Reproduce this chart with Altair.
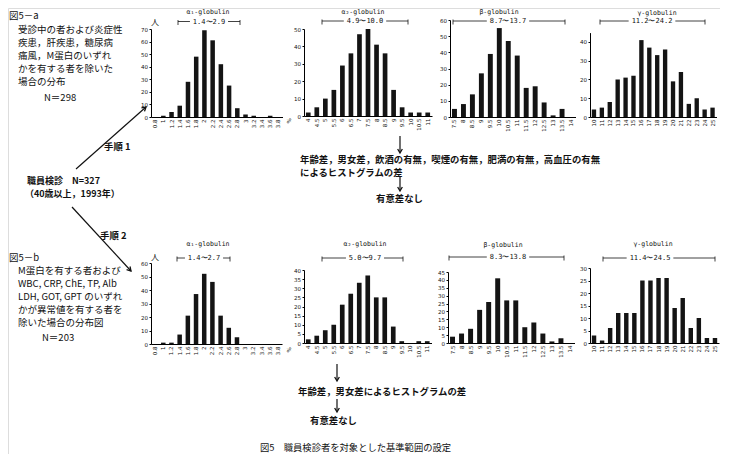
import altair as alt
import pandas as pd

W, H = 712, 446
OX, OY = 8, 8  # page margin

# ---------------- data ----------------
a1_bins = ["0.8", "1", "1.2", "1.4", "1.6", "1.8", "2", "2.2", "2.4", "2.6", "2.8", "3", "3.2", "3.4", "3.6", "3.8"]
a2_bins = ["4", "4.5", "5", "5.5", "6", "6.5", "7", "7.5", "8", "8.5", "9", "9.5", "10", "10.5", "11"]
b_bins = ["7.5", "8", "8.5", "9", "9.5", "10", "10.5", "11", "11.5", "12", "12.5", "13", "13.5", "14"]
g_bins = ["10", "11", "12", "13", "14", "15", "16", "17", "18", "19", "20", "21", "22", "23", "24", "25"]

# Fig 5-a (N=298)
a1_top = [0, 1, 4, 9, 28, 48, 69, 61, 42, 25, 7, 2, 1, 0, 1, 0]
a2_top = [2, 5, 10, 15, 29, 36, 47, 50, 41, 36, 15, 5, 2, 2, 2]
b_top = [5, 8, 14, 27, 39, 55, 47, 38, 18, 19, 9, 1, 5, 0]
g_top = [4, 5, 8, 20, 21, 22, 41, 37, 33, 36, 19, 24, 7, 10, 4, 5]

# Fig 5-b (N=203)
a1_bot = [0, 1, 1, 7, 21, 37, 52, 46, 21, 12, 5, 0, 0, 0, 0, 0]
a2_bot = [2, 4, 7, 10, 21, 27, 33, 37, 25, 25, 9, 1, 0, 1, 1]
b_bot = [4, 6, 9, 21, 26, 41, 27, 27, 10, 13, 6, 1, 3, 0]
g_bot = [3, 1, 6, 12, 12, 12, 25, 25, 26, 26, 14, 18, 6, 10, 2, 2]

titles = ["α₁-globulin", "α₂-globulin", "β-globulin", "γ-globulin"]
ref_top = ["1.4〜2.9", "4.9〜10.0", "8.7〜13.7", "11.2〜24.2"]
ref_bot = ["1.4〜2.7", "5.0〜9.7", "8.3〜13.8", "11.4〜24.5"]

y_max_top = [70, 50, 60, 45]
y_ticks_top = [[0, 10, 20, 30, 40, 50, 60, 70], [0, 10, 20, 30, 40, 50],
               [0, 10, 20, 30, 40, 50, 60], [0, 10, 20, 30, 40]]
y_max_bot = [60, 40, 45, 30]
y_ticks_bot = [[0, 10, 20, 30, 40, 50, 60], [0, 5, 10, 15, 20, 25, 30, 35, 40],
               [0, 5, 10, 15, 20, 25, 30, 35, 40, 45], [0, 5, 10, 15, 20, 25, 30]]

# ---------------- layout (page pixel coordinates) ----------------
# band range x0..x1, baseline y, y of the axis maximum
geo_top = [(151, 282.5, 117, 29), (304, 432, 116, 29), (450, 575.5, 117, 20), (590, 716.5, 117, 32.6)]
geo_bot = [(151, 282, 344, 263), (304, 431.5, 343, 270), (448, 574.5, 343, 272), (590, 719, 343, 268)]
title_pos_top = [(208, 12), (363, 12), (499, 12), (657, 12.5)]
title_pos_bot = [(208, 244), (365, 244), (503, 245), (653, 244)]
# bracket: x start, x end, y, text centre
br_top = [(178, 240, 21.5, 209), (322, 408, 21, 365), (453, 565, 21, 508), (600, 705, 21, 652)]
br_bot = [(177, 230, 258, 204), (322, 403, 258, 365), (449, 564, 257, 508), (603, 715, 258, 650)]

MONO = "DejaVu Sans Mono"
JP = "Noto Sans CJK JP"


def px(v):
    return v - OX


def py(v):
    return v - OY


def bar_layer(bins, counts, geo, ymax, ticks):
    x0, x1, base, top = geo
    df = pd.DataFrame({"bin": bins, "count": counts})
    return alt.Chart(df).mark_bar(color="#141414").encode(
        x=alt.X("bin:N", sort=None, title=None,
                scale=alt.Scale(range=[px(x0), px(x1)], paddingInner=0.45, paddingOuter=0.225),
                axis=alt.Axis(orient="bottom", offset=py(base) - H, labelAngle=270,
                              labelFontSize=5.5, labelFont="DejaVu Sans", labelPadding=2,
                              ticks=False, domainColor="#000", domainWidth=1,
                              labelColor="#111", labelOverlap=False, labelBound=False)),
        y=alt.Y("count:Q", title=None,
                scale=alt.Scale(domain=[0, ymax], range=[py(base), py(top)], nice=False),
                axis=alt.Axis(orient="left", offset=-px(x0), values=ticks, grid=False,
                              labelFontSize=5.5, labelFont="DejaVu Sans", labelPadding=1.5,
                              tickSize=2, tickColor="#000", domainColor="#000",
                              labelColor="#111", labelOverlap=False, labelBound=False)),
    )


def text_layer(rows, **kw):
    df = pd.DataFrame(rows, columns=["x", "y", "text"])
    df["x"] = df["x"] - OX
    df["y"] = df["y"] - OY
    return alt.Chart(df).mark_text(baseline="middle", color="#111", **kw).encode(
        x=alt.X("x:Q", scale=None, axis=None),
        y=alt.Y("y:Q", scale=None, axis=None),
        text="text:N",
    )


def rule_layer(rows, **kw):
    df = pd.DataFrame(rows, columns=["x", "y", "x2", "y2"])
    for c in ["x", "x2"]:
        df[c] = df[c] - OX
    for c in ["y", "y2"]:
        df[c] = df[c] - OY
    return alt.Chart(df).mark_rule(color="#111", **kw).encode(
        x=alt.X("x:Q", scale=None, axis=None),
        y=alt.Y("y:Q", scale=None, axis=None),
        x2="x2:Q",
        y2="y2:Q",
    )


CHEVRON = "M-1,1.7L0,0L1,1.7"


def head_layer(x, y, angle):
    df = pd.DataFrame({"x": [x - OX], "y": [y - OY]})
    return alt.Chart(df).mark_point(shape=CHEVRON, filled=False, size=22, strokeWidth=1.3,
                                    color="#111", angle=angle, opacity=1).encode(
        x=alt.X("x:Q", scale=None, axis=None),
        y=alt.Y("y:Q", scale=None, axis=None),
    )


layers = []
title_rows, ref_rows, bracket_rows = [], [], []
for row in range(2):
    counts_set = [a1_top, a2_top, b_top, g_top] if row == 0 else [a1_bot, a2_bot, b_bot, g_bot]
    bins_set = [a1_bins, a2_bins, b_bins, g_bins]
    geos = geo_top if row == 0 else geo_bot
    ymaxs = y_max_top if row == 0 else y_max_bot
    tks = y_ticks_top if row == 0 else y_ticks_bot
    tpos = title_pos_top if row == 0 else title_pos_bot
    brs = br_top if row == 0 else br_bot
    refs = ref_top if row == 0 else ref_bot
    for i in range(4):
        layers.append(bar_layer(bins_set[i], counts_set[i], geos[i], ymaxs[i], tks[i]))
        title_rows.append((tpos[i][0], tpos[i][1], titles[i]))
        bx0, bx1, by, bcx = brs[i]
        ref_rows.append((bcx, by, refs[i]))
        gap = len(refs[i]) * 4.3 + 8
        bracket_rows += [
            (bx0, by, bcx - gap / 2, by),
            (bcx + gap / 2, by, bx1, by),
            (bx0, by - 1.5, bx0, by + 3.5),
            (bx1, by - 1.5, bx1, by + 3.5),
        ]

layers.append(text_layer(title_rows, font=MONO, fontSize=6.5, align="center"))
layers.append(text_layer(ref_rows, font=MONO, fontSize=7, align="center"))
layers.append(rule_layer(bracket_rows, strokeWidth=0.8))

# axis units
layers.append(text_layer([(155, 23, "人"), (155, 258, "人")], font=JP, fontSize=8, align="center"))
layers.append(text_layer([(289, 121, "%"), (289, 350, "%")], font="DejaVu Sans", fontSize=5.5,
                         align="center", angle=270))

# left-hand descriptions
left_rows = [
    (9, 16, "図5－a"),
    (18, 29.5, "受診中の者および炎症性"),
    (18, 42.5, "疾患，肝疾患，糖尿病"),
    (18, 55.5, "痛風，M蛋白のいずれ"),
    (18, 68.5, "かを有する者を除いた"),
    (18, 81.5, "場合の分布"),
    (44, 98, "N＝298"),
    (9, 258, "図5－b"),
    (18, 271, "M蛋白を有する者および"),
    (18, 284, "WBC, CRP, ChE, TP, Alb"),
    (18, 297, "LDH, GOT, GPT のいずれ"),
    (18, 310, "かが異常値を有する者を"),
    (18, 323, "除いた場合の分布図"),
    (42, 338, "N＝203"),
]
layers.append(text_layer(left_rows, font=JP, fontSize=9.5, align="left"))

bold_rows = [
    (104, 147, "手順 1"),
    (100, 236, "手順 2"),
    (300, 159.5, "年齢差，男女差，飲酒の有無，喫煙の有無，肥満の有無，高血圧の有無"),
    (300, 172.5, "によるヒストグラムの差"),
    (376, 199, "有意差なし"),
    (298, 392, "年齢差，男女差によるヒストグラムの差"),
    (310, 421, "有意差なし"),
]
layers.append(text_layer(bold_rows, font=JP, fontSize=9.4, fontWeight="bold", align="left"))
layers.append(text_layer([(27, 181, "職員検診　N=327"), (25, 193.5, "（40歳以上，1993年）")],
                         font=JP, fontSize=9, fontWeight="bold", align="left"))

layers.append(text_layer([(260, 448, "図5　職員検診者を対象とした基準範囲の設定")],
                         font=JP, fontSize=9.3, align="left"))

# arrows
arrow_rows = [
    (76, 169, 146, 107),
    (72, 207, 131, 271),
    (400, 136, 400, 152),
    (400, 177, 400, 190),
    (337, 364, 337, 380),
    (337, 399, 337, 411),
]
layers.append(rule_layer(arrow_rows, strokeWidth=1.2))
layers.append(head_layer(146, 107, 49))
layers.append(head_layer(131, 271, 137))
layers.append(head_layer(400, 153, 180))
layers.append(head_layer(400, 191, 180))
layers.append(head_layer(337, 381, 180))
layers.append(head_layer(337, 412, 180))

chart = alt.layer(*layers).resolve_scale(x="independent", y="independent").properties(
    width=W, height=H, autosize=alt.AutoSizeParams(type="none"), padding=0,
).configure_view(stroke=None).configure(background="white")

chart.save("out.html", embed_options={"renderer": "svg", "actions": False})
